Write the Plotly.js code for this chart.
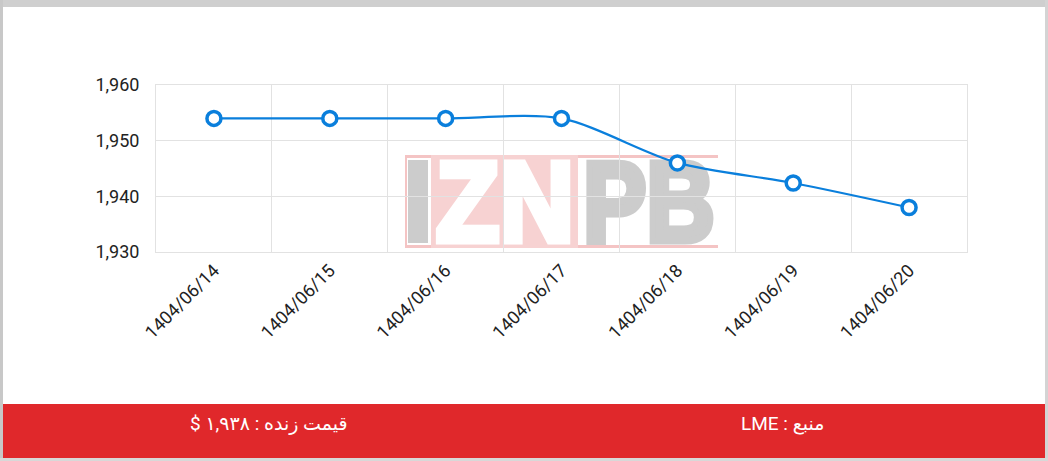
<!DOCTYPE html>
<html>
<head>
<meta charset="utf-8">
<script src="https://cdn.plot.ly/plotly-3.0.1.min.js"></script>
<style>
html,body{margin:0;padding:0;background:#fff;}
#chart{width:1048px;height:461px;}
</style>
</head>
<body>
<div id="chart"></div>
<script>
// ---- data ----
const dates = ["1404/06/14","1404/06/15","1404/06/16","1404/06/17","1404/06/18","1404/06/19","1404/06/20"];
const prices = [1954, 1954, 1954, 1954, 1946, 1942.4, 1938];
const yTicks = [1930, 1940, 1950, 1960];
const footerPrice = "$ ۱,۹۳۸ : قیمت زنده";
const footerSource = "LME : منبع";

// ---- layout geometry (pixels) ----
const W = 1048, H = 461;
const M = {l:156, r:81, t:85, b:209};
const pw = W - M.l - M.r, ph = H - M.t - M.b;
const px = x => (x - M.l) / pw;
const py = y => (H - M.b - y) / ph;

function rectPx(x0, y0, x1, y1, color){
  return {type:'rect', xref:'paper', yref:'paper', layer:'above',
    x0:px(x0), x1:px(x1), y0:py(y1), y1:py(y0),
    fillcolor:color, line:{width:0}};
}

const wm = `<svg xmlns="http://www.w3.org/2000/svg" width="313" height="93" viewBox="0 0 313 93">
<rect x="0" y="0" width="313" height="3" fill="#f4c4c4"/>
<rect x="0" y="90" width="313" height="3" fill="#f4c4c4"/>
<rect x="0" y="0" width="2" height="93" fill="#f4c4c4"/>
<rect x="26" y="0" width="147" height="93" fill="#f7d2d2"/>
<rect x="3" y="5" width="20" height="83" fill="#cccccc"/>
<text x="31" y="86" font-family="Liberation Sans, Arial, sans-serif" font-weight="bold" font-size="114" fill="#ffffff" stroke="#ffffff" stroke-width="7" stroke-linejoin="miter" textLength="138" lengthAdjust="spacingAndGlyphs">ZN</text>
<text x="178" y="86" font-family="Liberation Sans, Arial, sans-serif" font-weight="bold" font-size="114" fill="#cccccc" stroke="#cccccc" stroke-width="7" stroke-linejoin="miter" textLength="132" lengthAdjust="spacingAndGlyphs">PB</text>
</svg>`;
const wmSrc = 'data:image/svg+xml;charset=utf-8,' + encodeURIComponent(wm);

const trace = {
  x: dates, y: prices, type:'scatter', mode:'lines+markers',
  line:{color:'#0a7fdc', width:2.2, shape:'spline', smoothing:0.8},
  marker:{size:14, color:'#ffffff', line:{color:'#0a7fdc', width:3.5}},
  hoverinfo:'x+y', cliponaxis:false
};

const gridC = '#e2e2e2';
const layout = {
  width:W, height:H,
  margin:{l:M.l, r:M.r, t:M.t, b:M.b, pad:0},
  paper_bgcolor:'#ffffff', plot_bgcolor:'rgba(0,0,0,0)',
  showlegend:false,
  font:{family:'Roboto, "DejaVu Sans", sans-serif', color:'#222', size:18},
  xaxis:{
    type:'category', tickson:'boundaries', tickangle:-45,
    showgrid:true, gridcolor:gridC, gridwidth:1,
    showline:true, linecolor:gridC, mirror:true, zeroline:false,
    ticks:'outside', ticklen:13, tickcolor:'rgba(0,0,0,0)',
    tickfont:{size:18, color:'#222'}, fixedrange:true,
    range:[-0.5, dates.length-0.5]
  },
  yaxis:{
    range:[yTicks[0], yTicks[yTicks.length-1]], tickvals:yTicks, tickformat:',d',
    showgrid:true, gridcolor:gridC, gridwidth:1,
    showline:true, linecolor:gridC, mirror:true, zeroline:false,
    ticks:'outside', ticklen:12, tickcolor:'rgba(0,0,0,0)',
    tickfont:{size:18, color:'#222'}, fixedrange:true
  },
  images:[{
    source:wmSrc, xref:'paper', yref:'paper', layer:'below',
    x:px(405), y:py(155), sizex:px(718)-px(405), sizey:py(155)-py(248),
    xanchor:'left', yanchor:'top', sizing:'stretch', opacity:1
  }],
  shapes:[
    rectPx(0,0,W,7,'#cfcfcf'),
    rectPx(0,0,3,H,'#c8c8c8'),
    rectPx(1045,0,W,H,'#d4d4d4'),
    rectPx(0,458,W,H,'#d8d8d8'),
    rectPx(3,404,1045,458,'#e0282b')
  ],
  annotations:[
    {xref:'paper', yref:'paper', x:px(269), y:py(424), text:footerPrice, showarrow:false,
     font:{family:'Roboto, "DejaVu Sans", sans-serif', size:19, color:'#ffffff'}, xanchor:'center', yanchor:'middle'},
    {xref:'paper', yref:'paper', x:px(782), y:py(424), text:footerSource, showarrow:false,
     font:{family:'Roboto, "DejaVu Sans", sans-serif', size:19, color:'#ffffff'}, xanchor:'center', yanchor:'middle'}
  ]
};

Plotly.newPlot('chart', [trace], layout, {displayModeBar:false, staticPlot:true});
</script>
</body>
</html>
